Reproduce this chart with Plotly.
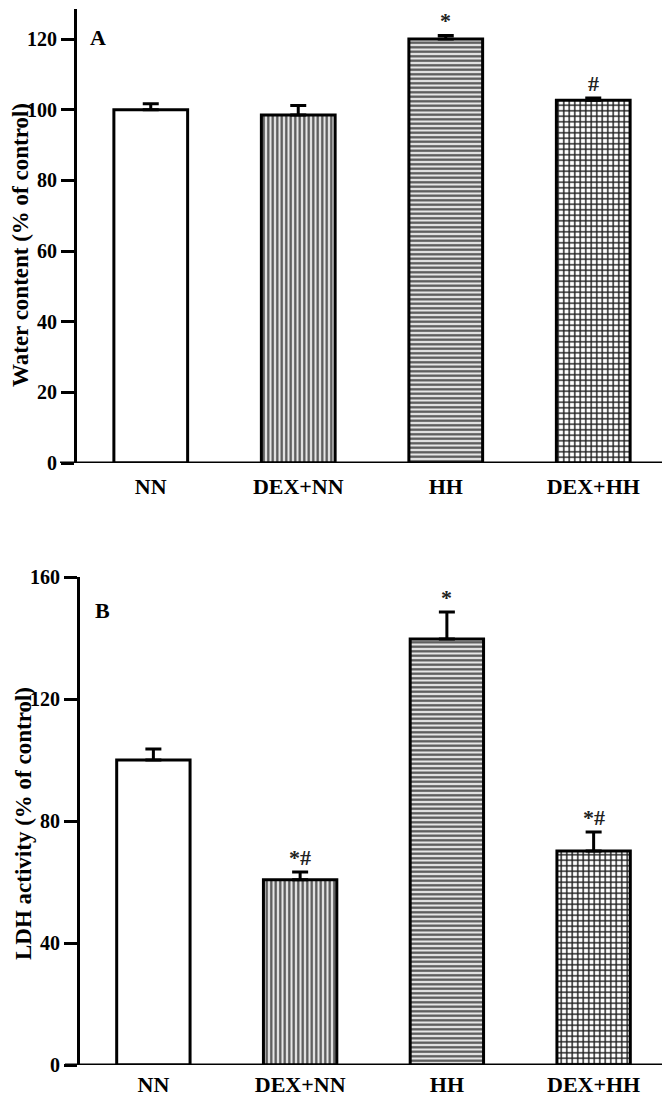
import plotly.graph_objects as go

categories = ["NN", "DEX+NN", "HH", "DEX+HH"]

water_values = [100.0, 98.5, 120.0, 102.7]
water_errors = [1.7, 2.7, 1.0, 0.6]
water_marks = ["", "", "*", "#"]

ldh_values = [100.0, 60.7, 139.7, 70.2]
ldh_errors = [3.6, 2.6, 8.8, 6.2]
ldh_marks = ["", "*#", "*", "*#"]

water_ticks = [0, 20, 40, 60, 80, 100, 120]
ldh_ticks = [0, 40, 80, 120, 160]

FONT = "Liberation Serif"
OFF = 8  # browser default body margin
W, H = 670 - OFF, 1098 - OFF


def fx(px):
    return (px - OFF) / W


def fy(py):
    return min(1.0, (H - (py - OFF)) / H)


patterns = [
    dict(shape="", fillmode="replace"),
    dict(shape="|", fgcolor="#555555", bgcolor="#e6e6e6", size=4.5, solidity=0.5, fillmode="replace"),
    dict(shape="-", fgcolor="#555555", bgcolor="#e6e6e6", size=4.5, solidity=0.5, fillmode="replace"),
    dict(shape="+", fgcolor="#1e1e1e", bgcolor="white", size=5.5, solidity=0.45, fillmode="replace"),
]

fig = go.Figure()


def add_panel(values, errors, xa, ya):
    for i, cat in enumerate(categories):
        fig.add_trace(go.Bar(
            x=[cat], y=[values[i]],
            xaxis=xa, yaxis=ya,
            width=0.5,
            marker=dict(color="white", line=dict(color="black", width=3),
                        pattern=patterns[i]),
            error_y=dict(type="data", symmetric=False, array=[errors[i]],
                         arrayminus=[0], color="black", thickness=3, width=8),
            showlegend=False,
        ))


add_panel(water_values, water_errors, "x", "y")
add_panel(ldh_values, ldh_errors, "x2", "y2")

mark_font = dict(family=FONT, size=22, color="#222", weight="bold")
ann = []
for i, m in enumerate(water_marks):
    if m:
        ann.append(dict(x=categories[i], y=water_values[i] + water_errors[i], xref="x", yref="y",
                        text=m, showarrow=False, yanchor="bottom", xanchor="center", yshift=0,
                        font=mark_font))
for i, m in enumerate(ldh_marks):
    if m:
        ann.append(dict(x=categories[i], y=ldh_values[i] + ldh_errors[i], xref="x2", yref="y2",
                        text=m, showarrow=False, yanchor="bottom", xanchor="center", yshift=0,
                        font=mark_font))


def px_ann(text, xpx, ypx, size, angle=0):
    return dict(x=fx(xpx), y=fy(ypx), xref="paper", yref="paper", text=text,
                showarrow=False, xanchor="center", yanchor="middle", textangle=angle,
                font=dict(family=FONT, size=size, color="black", weight="bold"))


ann.append(px_ann("A", 98, 38, 22))
ann.append(px_ann("B", 102, 610, 22))
ann.append(px_ann("Water content (% of control)", 21, 245, 23, -90))
ann.append(px_ann("LDH activity (% of control)", 23, 824, 23, -90))

shapes = [
    dict(type="line", xref="x domain", yref="y", x0=-17 / 590, x1=1, y0=0, y1=0,
         line=dict(color="black", width=3)),
    dict(type="line", xref="x2 domain", yref="y2", x0=-15 / 587, x1=1, y0=0, y1=0,
         line=dict(color="black", width=3)),
]

xaxis_common = dict(type="category", categoryorder="array", categoryarray=categories,
                    range=[-0.5, 3.5], showline=False, showgrid=False, zeroline=False,
                    ticks="", automargin=False,
                    tickfont=dict(family=FONT, size=22, color="black", weight="bold"))
yaxis_common = dict(showline=True, linecolor="black", linewidth=3, showgrid=False,
                    zeroline=False, ticks="outside", ticklen=13, tickwidth=3,
                    tickcolor="black", automargin=False,
                    tickfont=dict(family=FONT, size=20, color="black", weight="bold"))

fig.update_layout(
    width=W, height=H,
    margin=dict(l=0, r=0, t=0, b=0, autoexpand=False),
    paper_bgcolor="white", plot_bgcolor="white",
    xaxis=dict(domain=[fx(77), fx(667)], anchor="y", ticklabelstandoff=8, **xaxis_common),
    yaxis=dict(domain=[fy(463), fy(9)], anchor="x", range=[0, 128.5], tickvals=water_ticks,
               **yaxis_common),
    xaxis2=dict(domain=[fx(80), fx(667)], anchor="y2", ticklabelstandoff=4, **xaxis_common),
    yaxis2=dict(domain=[fy(1065), fy(577)], anchor="x2", range=[0, 160], tickvals=ldh_ticks,
                **yaxis_common),
    annotations=ann,
    shapes=shapes,
)

fig.write_html("out.html")
